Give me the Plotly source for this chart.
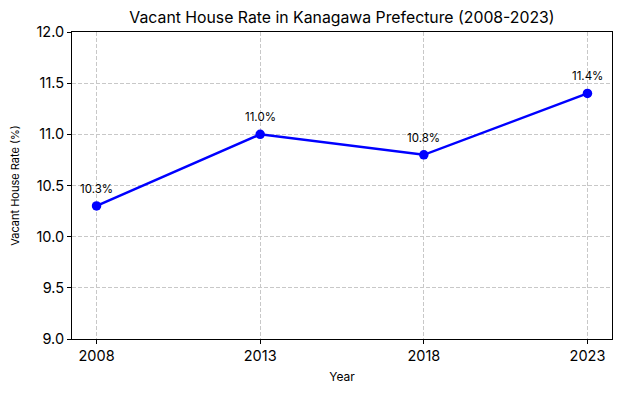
import plotly.graph_objects as go

years = [2008, 2013, 2018, 2023]
rates = [10.3, 11.0, 10.8, 11.4]
labels = [f"{v:.1f}%" for v in rates]
y_ticks = [9.0, 9.5, 10.0, 10.5, 11.0, 11.5, 12.0]

FONT = "Inter, Roboto, DejaVu Sans, sans-serif"

fig = go.Figure()
fig.add_trace(go.Scatter(
    x=years, y=rates, mode="lines+markers",
    line=dict(color="#0000ff", width=2.5),
    marker=dict(color="#0000ff", size=9.5),
    showlegend=False,
))
for x, y, t in zip(years, rates, labels):
    fig.add_annotation(x=x, y=y, text=t, showarrow=False, yshift=17,
                       font=dict(family=FONT, size=11.5, color="black"))

axis_common = dict(
    showline=True, linecolor="black", linewidth=1, mirror=True,
    ticks="outside", ticklen=4, tickcolor="black",
    showgrid=True, gridcolor="#c8c8c8", griddash="4px,2px", gridwidth=1,
    zeroline=False, automargin=False,
    tickfont=dict(family=FONT, size=14.5, color="black"),
)
fig.update_xaxes(range=[2007.25, 2023.75], tickvals=years,
                 ticktext=[str(y) for y in years],
                 title=dict(text="Year", font=dict(family=FONT, size=12, color="black"), standoff=9),
                 **axis_common)
fig.update_yaxes(range=[9.0, 12.0], tickvals=y_ticks,
                 ticktext=[f"{v:.1f}" for v in y_ticks],
                 title=dict(text="Vacant House Rate (%)", font=dict(family=FONT, size=11, color="black"), standoff=14),
                 **axis_common)

fig.update_layout(
    width=622, height=393,
    margin=dict(l=72, r=10, t=32, b=54),
    paper_bgcolor="white", plot_bgcolor="white",
    title=dict(text="Vacant House Rate in Kanagawa Prefecture (2008-2023)",
               x=0.5, xanchor="center", y=0.955, yanchor="middle",
               xref="paper",
               font=dict(family=FONT, size=15.8, color="black")),
)
fig.write_html("out.html", config={"displayModeBar": False},
               post_script="document.body.style.margin='0';")
